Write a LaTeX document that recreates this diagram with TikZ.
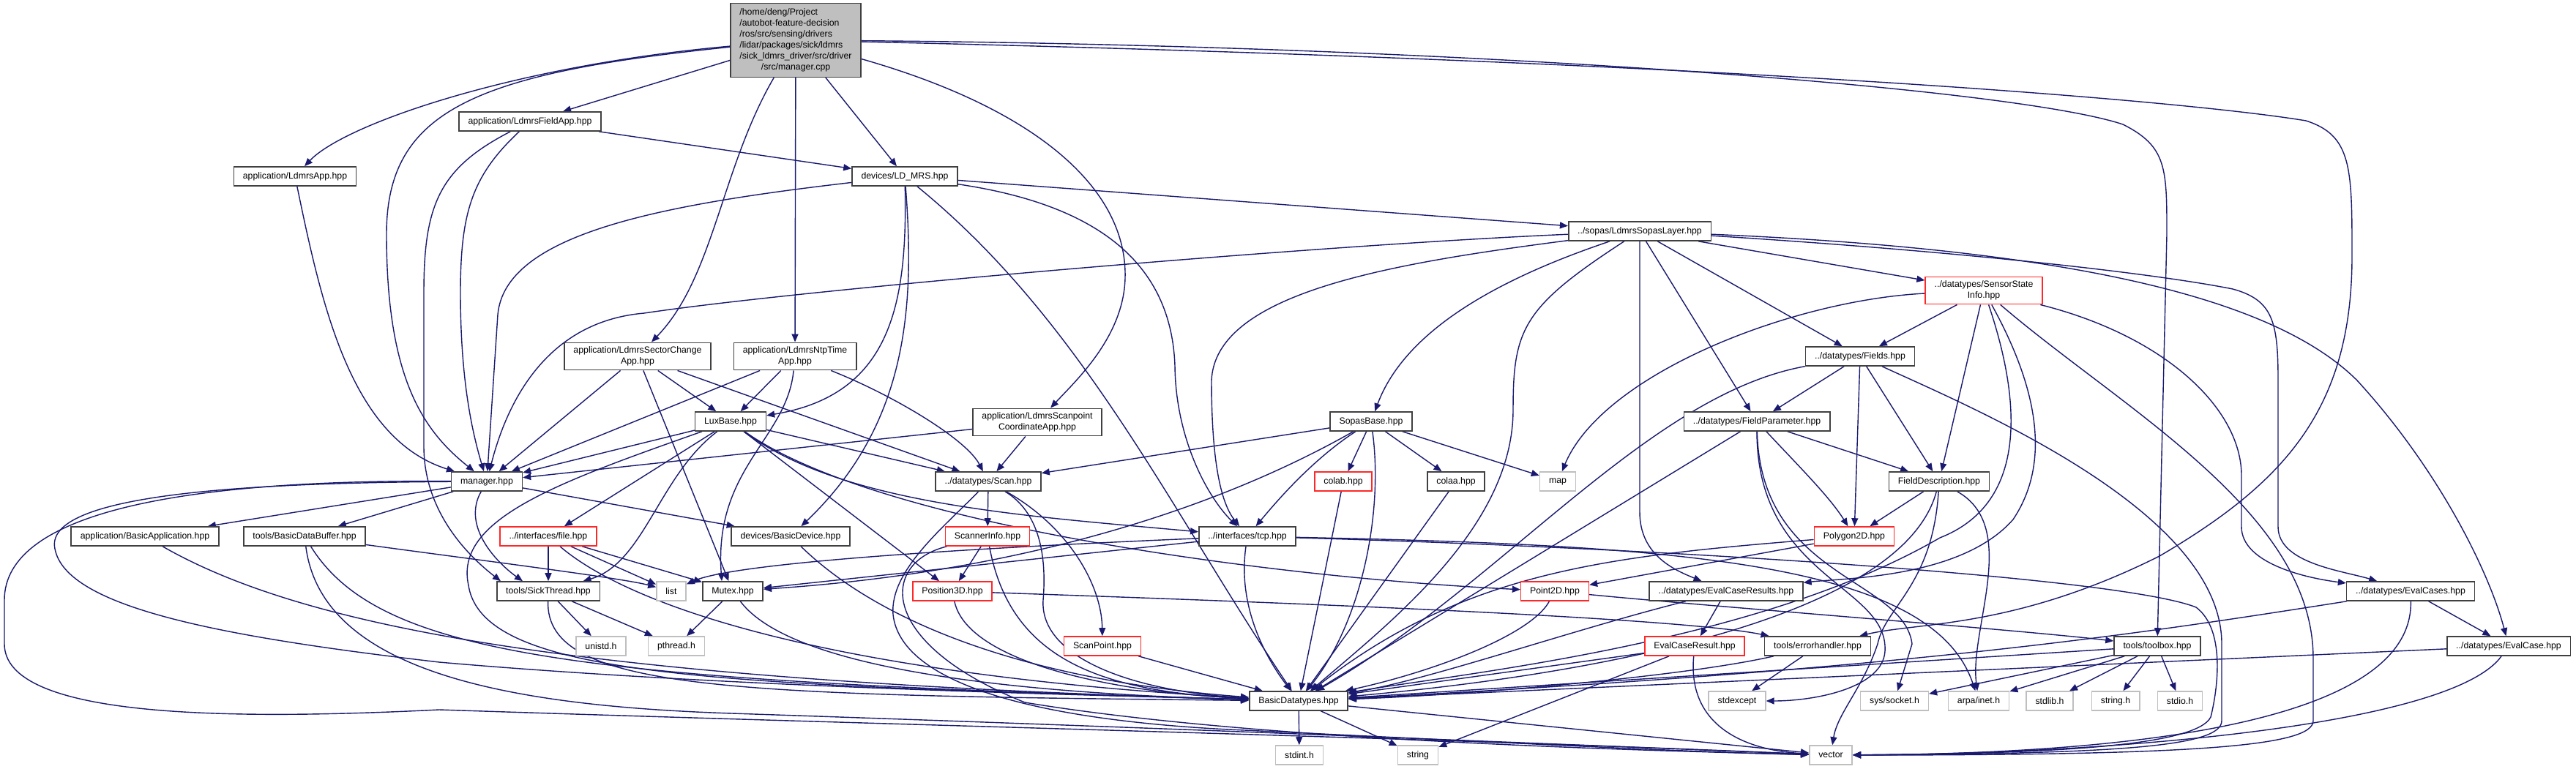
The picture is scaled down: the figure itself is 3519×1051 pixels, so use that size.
\documentclass[tikz,border=0pt]{standalone}
\usepackage{fontspec}
\setmainfont{Liberation Sans}
\usetikzlibrary{arrows.meta}
\definecolor{incblue}{RGB}{25,25,112}
\definecolor{nodeline}{RGB}{64,64,64}
\definecolor{truncred}{RGB}{255,40,40}
\definecolor{sysline}{RGB}{191,191,191}
\definecolor{srcfill}{RGB}{191,191,191}
\pgfdeclarelayer{edges}
\pgfsetlayers{edges,main}
\tikzset{incl/.style={-{Triangle[length=2.2mm,width=1.8mm]},incblue,line width=0.8pt},
 every node/.style={font=\fontsize{7pt}{8.5pt}\selectfont}}

\begin{document}
\begin{tikzpicture}[x=0.2mm,y=0.2mm,
 hdr/.style={draw=nodeline,fill=white,line width=0.9pt,inner xsep=2.5mm,inner ysep=1.1mm,minimum height=5.2mm,align=center},
 redhdr/.style={hdr,draw=truncred},
 syshdr/.style={hdr,draw=sysline},
 srcbox/.style={hdr,fill=srcfill}]
\useasboundingbox (0,0) rectangle (3519,-1051);
\node[srcbox] (root) at (1087,-55) {\begin{tabular}{@{}l@{}}/home/deng/Project\\/autobot-feature-decision\\/ros/src/sensing/drivers\\/lidar/packages/sick/ldmrs\\/sick\_ldmrs\_driver/src/driver\\\multicolumn{1}{@{}c@{}}{/src/manager.cpp}\end{tabular}};
\node[hdr] (fieldapp) at (724,-166) {application/LdmrsFieldApp.hpp};
\node[hdr] (ldmrsapp) at (403,-241) {application/LdmrsApp.hpp};
\node[hdr] (ldmrs) at (1236,-241) {devices/LD\_MRS.hpp};
\node[hdr] (sopaslayer) at (2240,-316) {../sopas/LdmrsSopasLayer.hpp};
\node[redhdr] (sensorstate) at (2710,-397) {../datatypes/SensorState\\Info.hpp};
\node[hdr] (fields) at (2541,-487) {../datatypes/Fields.hpp};
\node[hdr] (sectorapp) at (871,-487) {application/LdmrsSectorChange\\App.hpp};
\node[hdr] (ntpapp) at (1086,-487) {application/LdmrsNtpTime\\App.hpp};
\node[hdr] (luxbase) at (998,-576) {LuxBase.hpp};
\node[hdr] (scanptapp) at (1417,-577) {application/LdmrsScanpoint\\CoordinateApp.hpp};
\node[hdr] (sopasbase) at (1873,-576) {SopasBase.hpp};
\node[hdr] (fieldparam) at (2400,-576) {../datatypes/FieldParameter.hpp};
\node[hdr] (manager) at (665,-658) {manager.hpp};
\node[hdr] (scan) at (1350,-658) {../datatypes/Scan.hpp};
\node[redhdr] (colab) at (1835,-658) {colab.hpp};
\node[hdr] (colaa) at (1989,-658) {colaa.hpp};
\node[syshdr] (map) at (2128,-658) {map};
\node[hdr] (fielddesc) at (2649,-658) {FieldDescription.hpp};
\node[hdr] (basicapp) at (198,-733) {application/BasicApplication.hpp};
\node[hdr] (databuffer) at (416,-733) {tools/BasicDataBuffer.hpp};
\node[redhdr] (file) at (749,-733) {../interfaces/file.hpp};
\node[hdr] (basicdev) at (1080,-733) {devices/BasicDevice.hpp};
\node[redhdr] (scannerinfo) at (1349,-733) {ScannerInfo.hpp};
\node[hdr] (tcp) at (1704,-733) {../interfaces/tcp.hpp};
\node[redhdr] (polygon) at (2533,-733) {Polygon2D.hpp};
\node[hdr] (sickthread) at (749,-808) {tools/SickThread.hpp};
\node[syshdr] (list) at (917,-808) {list};
\node[hdr] (mutex) at (1001,-808) {Mutex.hpp};
\node[redhdr] (pos3d) at (1301,-808) {Position3D.hpp};
\node[redhdr] (point2d) at (2124,-808) {Point2D.hpp};
\node[hdr] (evalresults) at (2358,-808) {../datatypes/EvalCaseResults.hpp};
\node[hdr] (evalcases) at (3293,-808) {../datatypes/EvalCases.hpp};
\node[syshdr] (unistd) at (821,-883) {unistd.h};
\node[syshdr] (pthread) at (924,-883) {pthread.h};
\node[redhdr] (scanpoint) at (1506,-883) {ScanPoint.hpp};
\node[redhdr] (evalresult) at (2315,-883) {EvalCaseResult.hpp};
\node[hdr] (errhandler) at (2483,-883) {tools/errorhandler.hpp};
\node[hdr] (toolbox) at (2947,-883) {tools/toolbox.hpp};
\node[hdr] (evalcase) at (3427,-883) {../datatypes/EvalCase.hpp};
\node[hdr] (datatypes) at (1774,-958) {BasicDatatypes.hpp};
\node[syshdr] (stdexcept) at (2373,-958) {stdexcept};
\node[syshdr] (socket) at (2588,-958) {sys/socket.h};
\node[syshdr] (arpa) at (2703,-958) {arpa/inet.h};
\node[syshdr] (stdlib) at (2800,-958) {stdlib.h};
\node[syshdr] (stringh) at (2890,-958) {string.h};
\node[syshdr] (stdio) at (2978,-958) {stdio.h};
\node[syshdr] (stdint) at (1775,-1032) {stdint.h};
\node[syshdr] (string) at (1937,-1032) {string};
\node[syshdr] (vector) at (2501,-1032) {vector};
\begin{pgfonlayer}{edges}
\foreach \src/\dst in {root/fieldapp,root/ntpapp,root/ldmrs,fieldapp/ldmrs,ldmrs/sopaslayer,
  sopaslayer/fieldparam,sopaslayer/fields,sopaslayer/sensorstate,sensorstate/fields,sensorstate/fielddesc,
  fields/fieldparam,fields/polygon,fields/fielddesc,fieldparam/fielddesc,fieldparam/datatypes,
  fielddesc/polygon,polygon/point2d,evalresults/evalresult,evalresult/datatypes,evalresult/string,
  errhandler/stdexcept,evalcases/evalcase,evalcase/datatypes,toolbox/datatypes,toolbox/socket,
  toolbox/arpa,toolbox/stdlib,toolbox/stringh,toolbox/stdio,datatypes/stdint,datatypes/string,
  datatypes/vector,manager/basicapp,manager/databuffer,manager/basicdev,luxbase/manager,luxbase/scan,
  luxbase/file,luxbase/pos3d,sectorapp/manager,sectorapp/luxbase,sectorapp/scan,sectorapp/mutex,
  ntpapp/manager,ntpapp/luxbase,scanptapp/manager,scanptapp/scan,sopasbase/scan,sopasbase/colab,
  sopasbase/colaa,sopasbase/map,colab/datatypes,colaa/datatypes,scan/scannerinfo,scannerinfo/pos3d,
  scanpoint/datatypes,file/sickthread,file/list,file/mutex,sickthread/unistd,sickthread/pthread,
  mutex/pthread,tcp/mutex}
  \draw[incl] (\src) -- (\dst);
\draw[incl] (root) .. controls (700,-90) and (470,-170) .. (ldmrsapp);
\draw[incl] (root) .. controls (650,-100) and (528,-150) .. (528,-320) .. controls (528,-520) and (580,-590) .. (manager);
\draw[incl] (root) .. controls (985,-230) and (975,-380) .. (sectorapp);
\draw[incl] (root) .. controls (1420,-150) and (1540,-260) .. (1537,-380) .. controls (1535,-460) and (1470,-520) .. (scanptapp);
\draw[incl] (root) .. controls (2000,-62) and (2750,-120) .. (2900,-170) .. controls (2960,-200) and (2960,-230) .. (2960,-320) -- (toolbox);
\draw[incl] (root) .. controls (2400,-85) and (3000,-140) .. (3150,-165) .. controls (3213,-185) and (3213,-230) .. (3213,-350) .. controls (3213,-560) and (3120,-660) .. (2950,-760) .. controls (2750,-860) and (2620,-850) .. (errhandler);
\draw[incl] (fieldapp) .. controls (645,-240) and (629,-290) .. (629,-400) .. controls (629,-520) and (645,-590) .. (manager);
\draw[incl] (fieldapp) .. controls (600,-230) and (579,-280) .. (579,-400) -- (579,-610) .. controls (579,-700) and (640,-760) .. ([xshift=-13mm]sickthread.north);
\draw[incl] (ldmrsapp) .. controls (440,-420) and (480,-600) .. (manager);
\draw[incl] (ldmrs) .. controls (900,-280) and (690,-320) .. (680,-430) -- (manager);
\draw[incl] (ldmrs) .. controls (1240,-420) and (1215,-540) .. (luxbase);
\draw[incl] (ldmrs) .. controls (1250,-420) and (1240,-580) .. (basicdev);
\draw[incl] (ldmrs) .. controls (1480,-440) and (1600,-700) .. (datatypes);
\draw[incl] (ldmrs) .. controls (1500,-280) and (1600,-360) .. (1605,-500) .. controls (1606,-600) and (1650,-680) .. (tcp);
\draw[incl] (sopaslayer) .. controls (1800,-335) and (1100,-395) .. (880,-428) .. controls (740,-440) and (690,-560) .. (manager);
\draw[incl] (sopaslayer) .. controls (1900,-360) and (1660,-400) .. (1655,-520) .. controls (1655,-640) and (1670,-690) .. (tcp);
\draw[incl] (sopaslayer) .. controls (2050,-380) and (1920,-450) .. (sopasbase);
\draw[incl] (sopaslayer) .. controls (2080,-420) and (2067,-450) .. (2067,-560) .. controls (2067,-720) and (1900,-850) .. (datatypes);
\draw[incl] (sopaslayer) -- (2240,-700) .. controls (2240,-760) and (2290,-780) .. (evalresults);
\draw[incl] (sopaslayer) .. controls (2700,-345) and (2950,-375) .. (3050,-395) .. controls (3105,-410) and (3112,-440) .. (3112,-520) -- (3112,-720) .. controls (3112,-770) and (3200,-780) .. (evalcases);
\draw[incl] (sopaslayer) .. controls (2800,-340) and (3100,-400) .. (3220,-520) .. controls (3330,-640) and (3400,-780) .. (evalcase);
\draw[incl] (sensorstate) .. controls (2450,-410) and (2190,-510) .. (map);
\draw[incl] (sensorstate) .. controls (2765,-560) and (2765,-690) .. (2650,-735) .. controls (2400,-880) and (2000,-920) .. (datatypes);
\draw[incl] (sensorstate) .. controls (2800,-560) and (2790,-650) .. (2750,-710) .. controls (2680,-790) and (2520,-790) .. (evalresults);
\draw[incl] (sensorstate) .. controls (2900,-560) and (3160,-700) .. (3160,-900) -- (3160,-985) .. controls (3160,-1020) and (3000,-1032) .. (vector);
\draw[incl] (sensorstate) .. controls (2960,-460) and (3062,-560) .. (3062,-650) -- (3062,-720) .. controls (3062,-770) and (3150,-790) .. (evalcases);
\draw[incl] (fields) .. controls (2250,-540) and (2050,-800) .. (datatypes);
\draw[incl] (fields) .. controls (2700,-560) and (3035,-700) .. (3035,-880) -- (3035,-985) .. controls (3035,-1020) and (2900,-1030) .. (vector);
\draw[incl] (fieldparam) .. controls (2460,-640) and (2500,-680) .. (polygon);
\draw[incl] (fieldparam) .. controls (2405,-790) and (2600,-790) .. (2612,-880) -- (socket);
\draw[incl] (fieldparam) .. controls (2400,-790) and (2580,-800) .. (2575,-890) .. controls (2572,-940) and (2480,-958) .. (stdexcept);
\draw[incl] (fielddesc) .. controls (2600,-840) and (2200,-920) .. (datatypes);
\draw[incl] (fielddesc) .. controls (2640,-800) and (2575,-830) .. (2565,-880) .. controls (2545,-940) and (2510,-975) .. (vector);
\draw[incl] (fielddesc) .. controls (2760,-720) and (2690,-860) .. (arpa);
\draw[incl] (polygon) .. controls (2200,-760) and (2000,-780) .. (datatypes);
\draw[incl] (point2d) .. controls (2090,-870) and (1950,-920) .. (datatypes);
\draw[incl] (point2d) .. controls (2350,-830) and (2750,-860) .. (toolbox);
\draw[incl] (evalresults) .. controls (2150,-860) and (1950,-930) .. (datatypes);
\draw[incl] (evalresult) .. controls (2305,-990) and (2380,-1025) .. (vector);
\draw[incl] (errhandler) .. controls (2300,-925) and (2000,-950) .. (datatypes);
\draw[incl] (evalcases) .. controls (2900,-870) and (2600,-915) .. (datatypes);
\draw[incl] (evalcases) .. controls (3297,-990) and (2900,-1030) .. (vector);
\draw[incl] (evalcase) .. controls (3350,-990) and (2900,-1030) .. (vector);
\draw[incl] (manager) .. controls (630,-720) and (680,-770) .. ([xshift=-7mm]sickthread.north);
\draw[incl] (manager) .. controls (300,-660) and (60,-680) .. (75,-750) .. controls (90,-830) and (300,-870) .. (600,-905) .. controls (1000,-940) and (1500,-950) .. (datatypes);
\draw[incl] (manager) .. controls (250,-655) and (6,-700) .. (6,-820) -- (6,-880) .. controls (6,-980) and (300,-985) .. (600,-970) .. controls (1200,-990) and (2000,-1010) .. (vector);
\draw[incl] (luxbase) .. controls (900,-650) and (880,-770) .. (sickthread);
\draw[incl] (luxbase) .. controls (760,-660) and (620,-710) .. (640,-800) .. controls (660,-930) and (1000,-935) .. (datatypes);
\draw[incl] (luxbase) .. controls (1150,-690) and (1400,-705) .. (tcp);
\draw[incl] (luxbase) .. controls (1200,-720) and (1750,-790) .. (point2d);
\draw[incl] (ntpapp) .. controls (1075,-600) and (975,-640) .. ([xshift=-3mm]mutex.north);
\draw[incl] (ntpapp) .. controls (1220,-540) and (1320,-600) .. (scan);
\draw[incl] (sopasbase) .. controls (1790,-630) and (1740,-690) .. (tcp);
\draw[incl] (sopasbase) .. controls (1890,-700) and (1860,-850) .. (datatypes);
\draw[incl] (sopasbase) .. controls (1760,-640) and (1500,-775) .. (mutex);
\draw[incl] (scan) .. controls (1460,-720) and (1505,-800) .. (scanpoint);
\draw[incl] (scan) .. controls (1420,-700) and (1430,-760) .. (1425,-820) .. controls (1420,-900) and (1550,-945) .. (datatypes);
\draw[incl] (scan) .. controls (1290,-720) and (1215,-780) .. (1220,-840) .. controls (1230,-930) and (1400,-985) .. (1700,-998) .. controls (2000,-1012) and (2300,-1028) .. (vector);
\draw[incl] (scannerinfo) .. controls (1380,-900) and (1500,-945) .. (datatypes);
\draw[incl] (scannerinfo) .. controls (1200,-770) and (1200,-880) .. (1400,-960) .. controls (1700,-1010) and (2200,-1025) .. (vector);
\draw[incl] (pos3d) .. controls (1320,-900) and (1500,-945) .. (datatypes);
\draw[incl] (pos3d) .. controls (1800,-825) and (2300,-845) .. (errhandler);
\draw[incl] (tcp) .. controls (1690,-830) and (1730,-900) .. (datatypes);
\draw[incl] (tcp) .. controls (1300,-750) and (1000,-770) .. (list);
\draw[incl] (tcp) .. controls (2300,-745) and (2640,-770) .. (arpa);
\draw[incl] (tcp) .. controls (2300,-750) and (2900,-790) .. (3000,-830) .. controls (3040,-860) and (3030,-940) .. (3020,-980) .. controls (3000,-1020) and (2800,-1030) .. (vector);
\draw[incl] (file) .. controls (850,-820) and (1100,-920) .. (datatypes);
\draw[incl] (databuffer) .. controls (650,-765) and (850,-790) .. (list);
\draw[incl] (databuffer) .. controls (520,-900) and (800,-930) .. (datatypes);
\draw[incl] (databuffer) .. controls (440,-920) and (700,-965) .. (1000,-975) .. controls (1600,-995) and (2200,-1020) .. (vector);
\draw[incl] (basicapp) .. controls (420,-860) and (800,-930) .. (datatypes);
\draw[incl] (basicdev) .. controls (1200,-850) and (1400,-930) .. (datatypes);
\draw[incl] (sickthread) .. controls (745,-945) and (1000,-950) .. (datatypes);
\draw[incl] (mutex) .. controls (1070,-900) and (1300,-945) .. (datatypes);
\end{pgfonlayer}
\end{tikzpicture}
\end{document}
